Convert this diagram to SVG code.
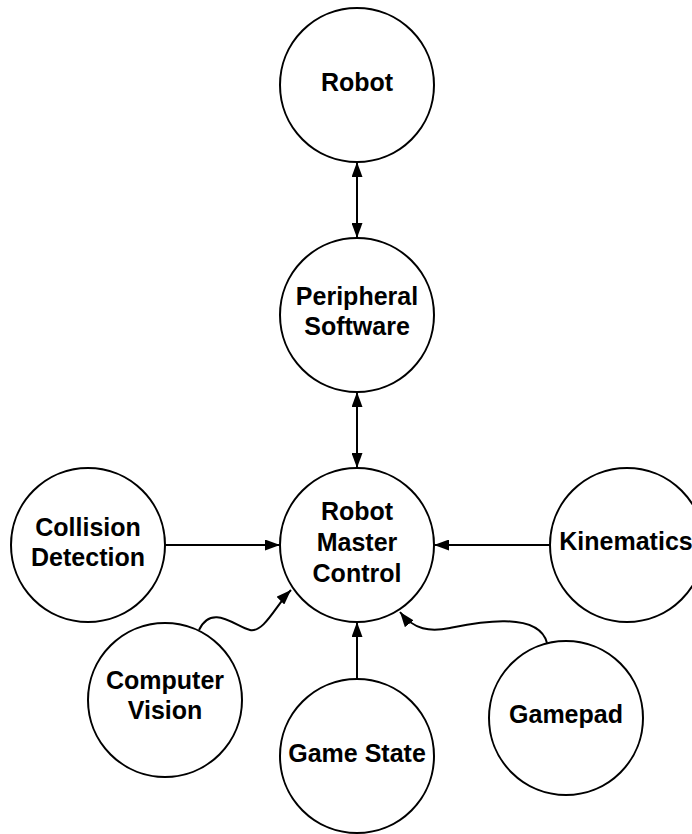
<svg xmlns="http://www.w3.org/2000/svg" width="692" height="834" viewBox="0 0 692 834">
<style>
.node circle{fill:#fff;stroke:#000;stroke-width:2}
.node text{font-family:"Liberation Sans",Arial,sans-serif;font-weight:bold;font-size:25px;fill:#000;text-anchor:middle}
.conn path{fill:none;stroke:#000;stroke-width:2}
</style>
<defs>
<marker id="ah" viewBox="0 0 15 11" refX="15" refY="5.5" markerWidth="15" markerHeight="11" markerUnits="userSpaceOnUse" orient="auto-start-reverse">
<path d="M0,0 L15,5.5 L0,11 Z" fill="#000"/>
</marker>
</defs>
<rect width="692" height="834" fill="#fff"/>
<g id="connectors" class="conn">
<path d="M357,162 L357,238" marker-start="url(#ah)" marker-end="url(#ah)"/>
<path d="M357,392 L357,468" marker-start="url(#ah)" marker-end="url(#ah)"/>
<path d="M165,545 L280,545" marker-end="url(#ah)"/>
<path d="M550,545 L434,545" marker-end="url(#ah)"/>
<path d="M357,679 L357,622" marker-end="url(#ah)"/>
<path d="M199,630 C212,603 236,627 250,630 C264,633 276,605 291,590" marker-end="url(#ah)"/>
<path d="M547,643 C538,609 470,624 450,628 C430,632 414,630 400,612" marker-end="url(#ah)"/>
</g>
<g id="robot" class="node"><circle cx="357" cy="85" r="77"/><text x="357" y="91">Robot</text></g>
<g id="peripheral-software" class="node"><circle cx="357" cy="315" r="77"/><text x="357" y="305">Peripheral</text><text x="357" y="335">Software</text></g>
<g id="robot-master-control" class="node"><circle cx="357" cy="545" r="77"/><text x="357" y="520">Robot</text><text x="357" y="551">Master</text><text x="357" y="582">Control</text></g>
<g id="collision-detection" class="node"><circle cx="88" cy="545" r="77"/><text x="88" y="536">Collision</text><text x="88" y="566">Detection</text></g>
<g id="kinematics" class="node"><circle cx="627" cy="545" r="77"/><text x="626" y="550">Kinematics</text></g>
<g id="computer-vision" class="node"><circle cx="165" cy="700" r="77"/><text x="165" y="689">Computer</text><text x="165" y="719">Vision</text></g>
<g id="game-state" class="node"><circle cx="357" cy="756" r="77"/><text x="357" y="762">Game State</text></g>
<g id="gamepad" class="node"><circle cx="566" cy="718" r="77"/><text x="566" y="723">Gamepad</text></g>
</svg>
